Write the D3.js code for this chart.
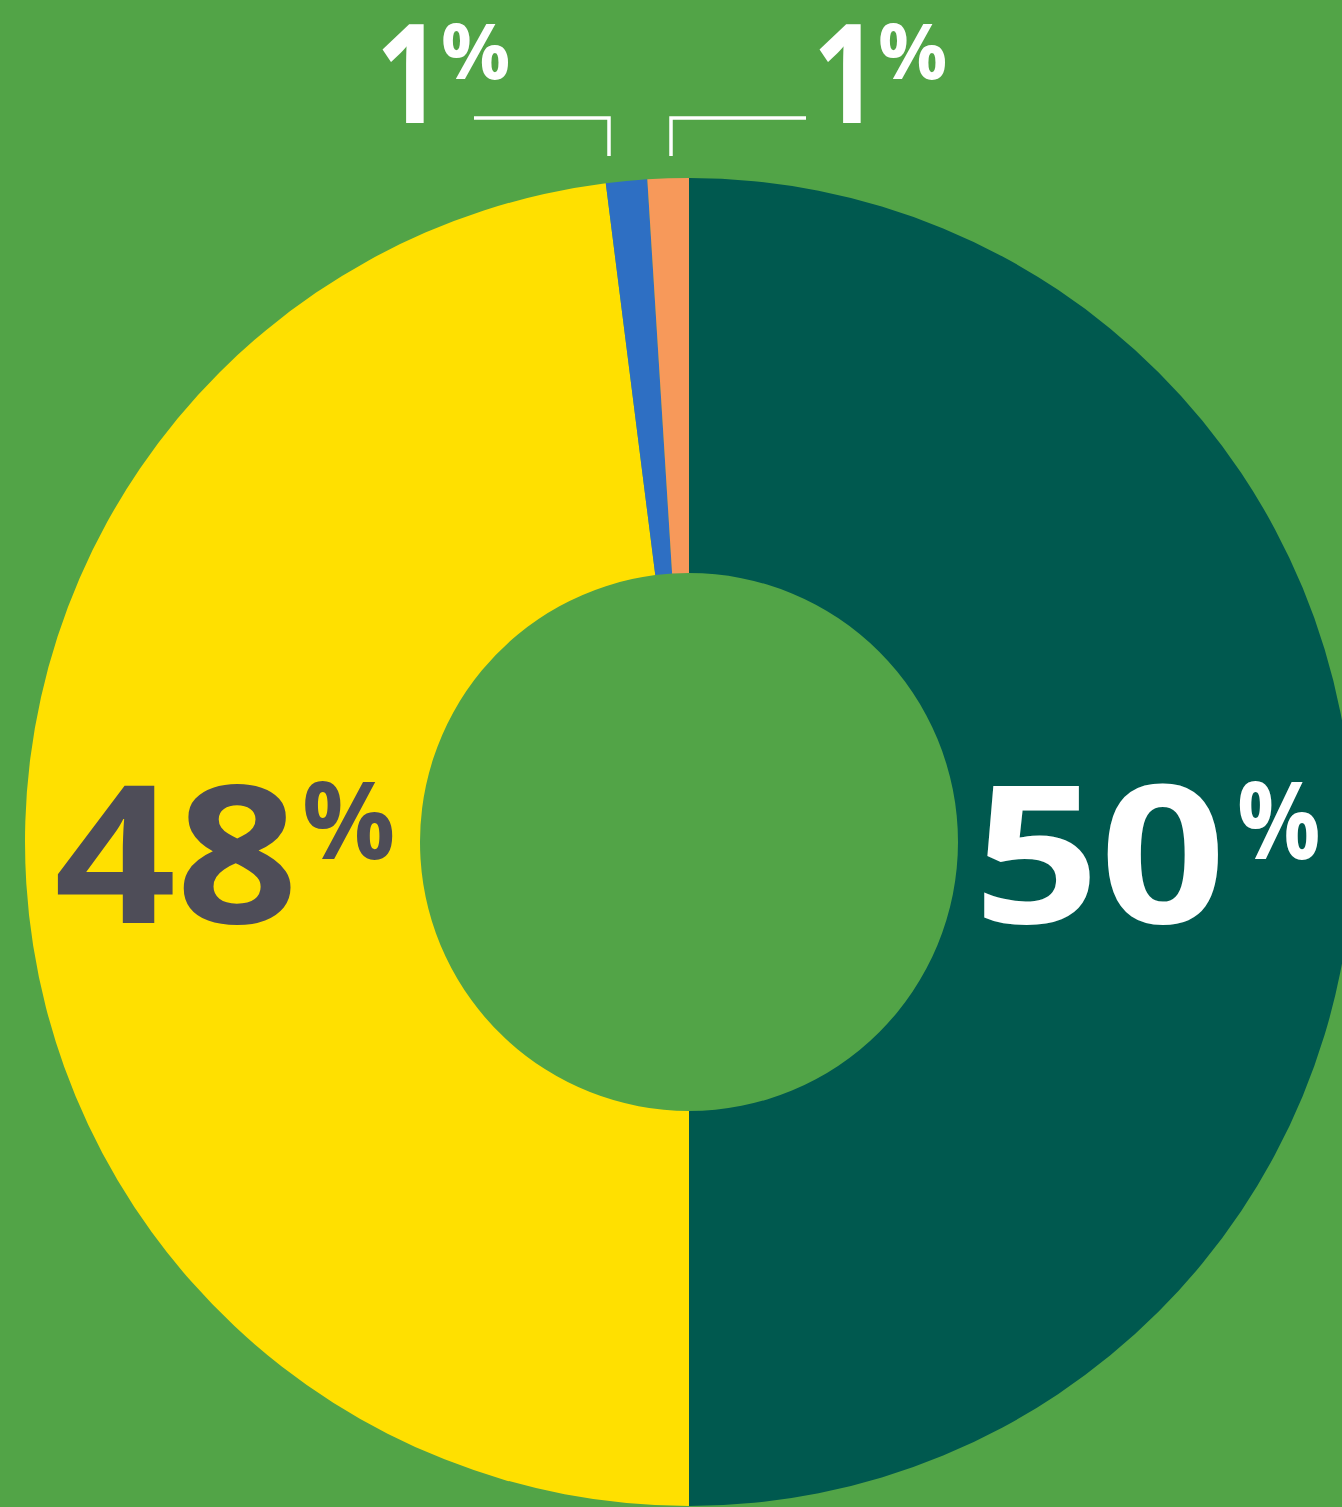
<!DOCTYPE html>
<html>
<head>
  <script src="https://d3js.org/d3.v7.min.js"></script>
  <style>
    body { margin: 0; background: #52a447; }
    svg { display: block; }
    text { font-family: "Open Sans", sans-serif; font-weight: 700; }
  </style>
</head>
<body>
  <svg></svg>
  <script>
  // data
  const segments = ["dark green", "yellow", "blue", "orange"];
  const values = [50, 48, 1, 1];
  const labels = ["50", "48", "1", "1"];
  const colors = ["#00594f", "#ffe000", "#2e6fc3", "#f7995a"];
  const textColors = ["#ffffff", "#4e4d58", "#ffffff", "#ffffff"];

  const width = 1342, height = 1507;
  const cx = 689, cy = 842;
  const outerR = 664, innerR = 269;

  const svg = d3.select("svg")
    .attr("width", width)
    .attr("height", height);

  svg.append("rect")
    .attr("width", width)
    .attr("height", height)
    .attr("fill", "#52a447");

  const color = d3.scaleOrdinal().domain(segments).range(colors);

  const pie = d3.pie().sort(null).value(d => d.value);
  const arc = d3.arc().innerRadius(innerR).outerRadius(outerR);

  const data = segments.map((s, i) => ({ name: s, value: values[i], label: labels[i], textColor: textColors[i] }));
  const arcs = pie(data);

  const g = svg.append("g").attr("transform", `translate(${cx},${cy})`);

  g.selectAll("path")
    .data(arcs)
    .enter().append("path")
    .attr("d", arc)
    .attr("fill", d => color(d.data.name));

  // label layout: number end x, baseline, size, x-stretch; percent start x, baseline, size, x-stretch
  const layout = [
    { nx: 1226, ny: 923, ns: 192, nsx: 1.15, px: 1237, py: 859, ps: 108, psx: 0.86 },
    { nx: 298, ny: 923, ns: 192, nsx: 1.11, px: 302, py: 859, ps: 108, psx: 0.96 },
    { nx: 442, ny: 123, ns: 138, nsx: 0.84, px: 441, py: 79, ps: 77, psx: 1 },
    { nx: 879, ny: 123, ns: 138, nsx: 0.84, px: 878, py: 79, ps: 77, psx: 1 }
  ];

  const lbl = svg.append("g");
  arcs.forEach((d, i) => {
    const L = layout[i];
    lbl.append("text")
      .attr("transform", `translate(${L.nx},${L.ny}) scale(${L.nsx},1)`)
      .attr("text-anchor", "end")
      .attr("font-size", L.ns)
      .attr("fill", d.data.textColor)
      .text(d.data.label);
    lbl.append("text")
      .attr("transform", `translate(${L.px},${L.py}) scale(${L.psx},1)`)
      .attr("text-anchor", "start")
      .attr("font-size", L.ps)
      .attr("fill", d.data.textColor)
      .text("%");
  });

  // leader lines for the small slices
  const leaders = [
    [[474, 118], [609, 118], [609, 156]],
    [[806, 118], [671, 118], [671, 156]]
  ];
  svg.append("g").selectAll("path")
    .data(leaders)
    .enter().append("path")
    .attr("d", d3.line())
    .attr("fill", "none")
    .attr("stroke", "#ffffff")
    .attr("stroke-width", 3.5);
  </script>
</body>
</html>
